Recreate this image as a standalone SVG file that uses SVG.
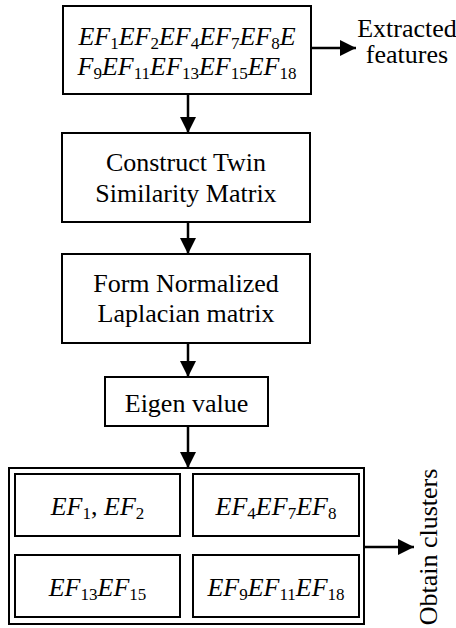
<svg xmlns="http://www.w3.org/2000/svg" width="456" height="628" viewBox="0 0 456 628">
<defs>
<marker id="ah" markerWidth="16" markerHeight="16" viewBox="0 0 16 16" refX="16" refY="8" orient="auto" markerUnits="userSpaceOnUse">
<path d="M0,0 L16,8 L0,16 Z" fill="#000"/>
</marker>
<style>
.box{fill:#fff;stroke:#000;stroke-width:2}
.t{font-family:"Liberation Serif","Times New Roman",serif;font-size:26px;fill:#000;text-anchor:middle}
.i{font-style:italic}
.n{font-style:normal}
.s{font-size:17px;font-style:normal}
.c{fill:none;stroke:#000;stroke-width:2.5}
</style>
</defs>
<rect width="456" height="628" fill="#fff"/>
<g id="connectors">
<line class="c" x1="311" y1="48" x2="356" y2="48" marker-end="url(#ah)"/>
<line class="c" x1="188" y1="94" x2="188" y2="133" marker-end="url(#ah)"/>
<line class="c" x1="188" y1="222" x2="188" y2="254" marker-end="url(#ah)"/>
<line class="c" x1="188" y1="343" x2="188" y2="377" marker-end="url(#ah)"/>
<line class="c" x1="188" y1="426" x2="188" y2="468" marker-end="url(#ah)"/>
<line class="c" x1="364" y1="547" x2="414" y2="547" marker-end="url(#ah)"/>
</g>
<g id="features">
<rect class="box" x="63" y="6" width="248" height="88"/>
<text class="t i" x="187" y="45">EF<tspan class="s" dy="4">1</tspan><tspan dy="-4">EF</tspan><tspan class="s" dy="4">2</tspan><tspan dy="-4">EF</tspan><tspan class="s" dy="4">4</tspan><tspan dy="-4">EF</tspan><tspan class="s" dy="4">7</tspan><tspan dy="-4">EF</tspan><tspan class="s" dy="4">8</tspan><tspan dy="-4">E</tspan></text>
<text class="t i" x="187" y="75">F<tspan class="s" dy="4">9</tspan><tspan dy="-4">EF</tspan><tspan class="s" dy="4">11</tspan><tspan dy="-4">EF</tspan><tspan class="s" dy="4">13</tspan><tspan dy="-4">EF</tspan><tspan class="s" dy="4">15</tspan><tspan dy="-4">EF</tspan><tspan class="s" dy="4">18</tspan></text>
</g>
<g id="extracted-label">
<text class="t" x="407" y="37">Extracted</text>
<text class="t" x="407" y="63">features</text>
</g>
<g id="twin-matrix">
<rect class="box" x="62" y="133" width="248" height="89"/>
<text class="t" x="186" y="171">Construct Twin</text>
<text class="t" x="186" y="202">Similarity Matrix</text>
</g>
<g id="laplacian">
<rect class="box" x="62" y="254" width="248" height="89"/>
<text class="t" x="186" y="292">Form Normalized</text>
<text class="t" x="186" y="322">Laplacian matrix</text>
</g>
<g id="eigen">
<rect class="box" x="105" y="377" width="163" height="49"/>
<text class="t" x="186.5" y="412">Eigen value</text>
</g>
<g id="clusters">
<rect class="box" x="9" y="468" width="355" height="156"/>
<g id="cluster1">
<rect class="box" x="15" y="474" width="165" height="62"/>
<text class="t i" x="97.5" y="515">EF<tspan class="s" dy="4">1</tspan><tspan class="n" dy="-4">, </tspan><tspan>EF</tspan><tspan class="s" dy="4">2</tspan></text>
</g>
<g id="cluster2">
<rect class="box" x="193" y="474" width="166" height="62"/>
<text class="t i" x="276" y="515">EF<tspan class="s" dy="4">4</tspan><tspan dy="-4">EF</tspan><tspan class="s" dy="4">7</tspan><tspan dy="-4">EF</tspan><tspan class="s" dy="4">8</tspan></text>
</g>
<g id="cluster3">
<rect class="box" x="15" y="555" width="165" height="62"/>
<text class="t i" x="97.5" y="596">EF<tspan class="s" dy="4">13</tspan><tspan dy="-4">EF</tspan><tspan class="s" dy="4">15</tspan></text>
</g>
<g id="cluster4">
<rect class="box" x="193" y="555" width="166" height="62"/>
<text class="t i" x="276" y="596">EF<tspan class="s" dy="4">9</tspan><tspan dy="-4">EF</tspan><tspan class="s" dy="4">11</tspan><tspan dy="-4">EF</tspan><tspan class="s" dy="4">18</tspan></text>
</g>
</g>
<g id="obtain-label">
<text class="t" transform="translate(437,547) rotate(-90)" x="0" y="0">Obtain clusters</text>
</g>
</svg>
